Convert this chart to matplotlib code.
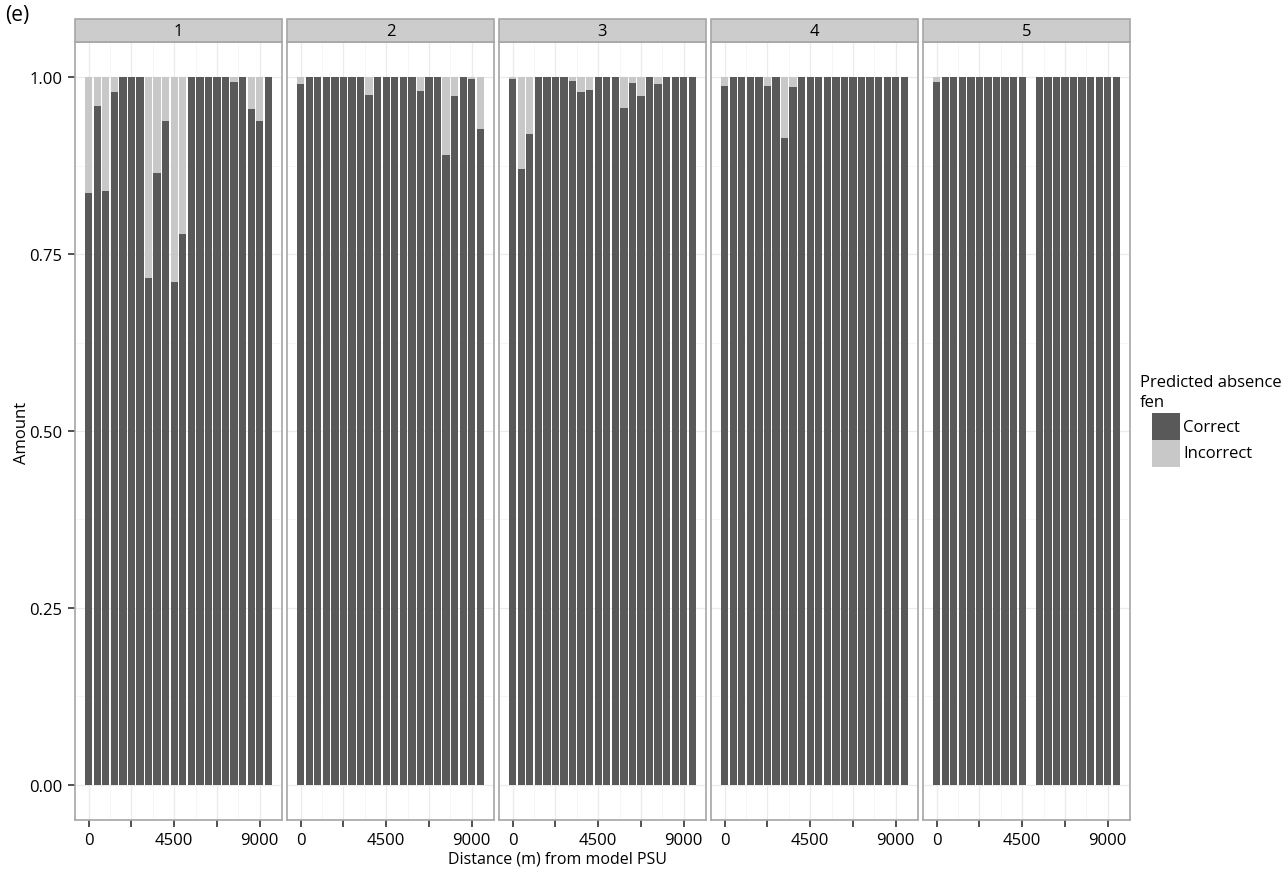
import numpy as np
import matplotlib.pyplot as plt
from matplotlib.patches import Rectangle

plt.rcParams['font.family'] = ['Open Sans', 'DejaVu Sans']

# distance bins (m) shared by every panel
distance = np.arange(0, 9451, 450)

# share of absences predicted correctly, one list per fen class
correct_1 = [0.836, 0.960, 0.839, 0.980, 1, 1, 1, 0.717, 0.865, 0.939, 0.710,
             0.778, 1, 1, 1, 1, 1, 0.993, 1, 0.955, 0.939, 1]
correct_2 = [0.990, 1, 1, 1, 1, 1, 1, 1, 0.975, 1, 1,
             1, 1, 1, 0.981, 1, 1, 0.890, 0.973, 1, 0.997, 0.927]
correct_3 = [0.997, 0.871, 0.920, 1, 1, 1, 1, 0.995, 0.979, 0.982, 1,
             1, 1, 0.956, 0.992, 0.974, 1, 0.990, 1, 1, 1, 1]
correct_4 = [0.988, 1, 1, 1, 1, 0.988, 1, 0.914, 0.987, 1, 1,
             1, 1, 1, 1, 1, 1, 1, 1, 1, 1, 1]
correct_5 = [0.994, 1, 1, 1, 1, 1, 1, 1, 1, 1, 1,
             np.nan, 1, 1, 1, 1, 1, 1, 1, 1, 1, 1]

panels = ['1', '2', '3', '4', '5']
correct = [correct_1, correct_2, correct_3, correct_4, correct_5]

dark = '#595959'
light = '#c8c8c8'

W, H = 1284, 870
fig = plt.figure(figsize=(W / 100, H / 100), dpi=100)

left0, pw, step = 75, 207, 212
top, bottom = 43, 821
strip_top = 20

for i, (name, vals) in enumerate(zip(panels, correct)):
    x0 = left0 + i * step
    ax = fig.add_axes([x0 / W, 1 - bottom / H, pw / W, (bottom - top) / H])
    vals = np.array(vals, dtype=float)
    ok = ~np.isnan(vals)
    ax.bar(distance[ok], vals[ok], width=385, color=dark, zorder=3)
    ax.bar(distance[ok], 1 - vals[ok], bottom=vals[ok], width=385,
           color=light, zorder=3)

    ax.set_xlim(-720, 10170)
    ax.set_ylim(-0.05, 1.05)
    ax.set_xticks(np.arange(0, 9001, 1125), minor=True)
    ax.set_yticks(np.arange(0, 1.01, 0.125), minor=True)
    ax.set_xticks([0, 2250, 4500, 6750, 9000])
    ax.set_xticklabels(['0', '', '4500', '', '9000'])
    ax.set_yticks([0, 0.25, 0.5, 0.75, 1.0])
    ax.grid(which='major', color='#ebebeb', lw=0.9, zorder=0)
    ax.grid(which='minor', color='#f5f5f5', lw=0.6, zorder=0)
    ax.tick_params(which='minor', length=0)
    ax.tick_params(which='major', length=5, width=1.2, color='#333333',
                   labelsize=12, labelcolor='black', pad=4)
    if i == 0:
        ax.set_yticklabels(['0.00', '0.25', '0.50', '0.75', '1.00'])
    else:
        ax.tick_params(axis='y', length=0, labelleft=False)
    for s in ax.spines.values():
        s.set_color('#a6a6a6')
        s.set_linewidth(1.2)

    # facet strip
    fig.patches.append(Rectangle((x0 / W, 1 - top / H), pw / W,
                                 (top - strip_top) / H,
                                 transform=fig.transFigure, facecolor='#cccccc',
                                 edgecolor='#a6a6a6', lw=1.2))
    fig.text((x0 + pw / 2) / W, 1 - (top + strip_top) / 2 / H, name,
             ha='center', va='center', fontsize=12)

fig.text(5 / W, 1 - 16 / H, '(e)', ha='left', va='center', fontsize=15)
fig.text(22 / W, 1 - 433 / H, 'Amount', rotation=90, ha='center',
         va='center', fontsize=12)
fig.text(558 / W, 1 - 860 / H, 'Distance (m) from model PSU', ha='center',
         va='center', fontsize=11.5)

# legend
fig.text(1140 / W, 1 - 393 / H, 'Predicted absence\nfen', ha='left',
         va='center', fontsize=12, linespacing=1.3)
for j, (lab, col) in enumerate([('Correct', dark), ('Incorrect', light)]):
    y = 414 + j * 27
    fig.patches.append(Rectangle((1152 / W, 1 - (y + 27) / H), 28 / W, 27 / H,
                                 transform=fig.transFigure, facecolor=col,
                                 edgecolor='none'))
    fig.text(1183 / W, 1 - (y + 13.5) / H, lab, ha='left', va='center',
             fontsize=12)

fig.savefig('out.png', dpi=100)
